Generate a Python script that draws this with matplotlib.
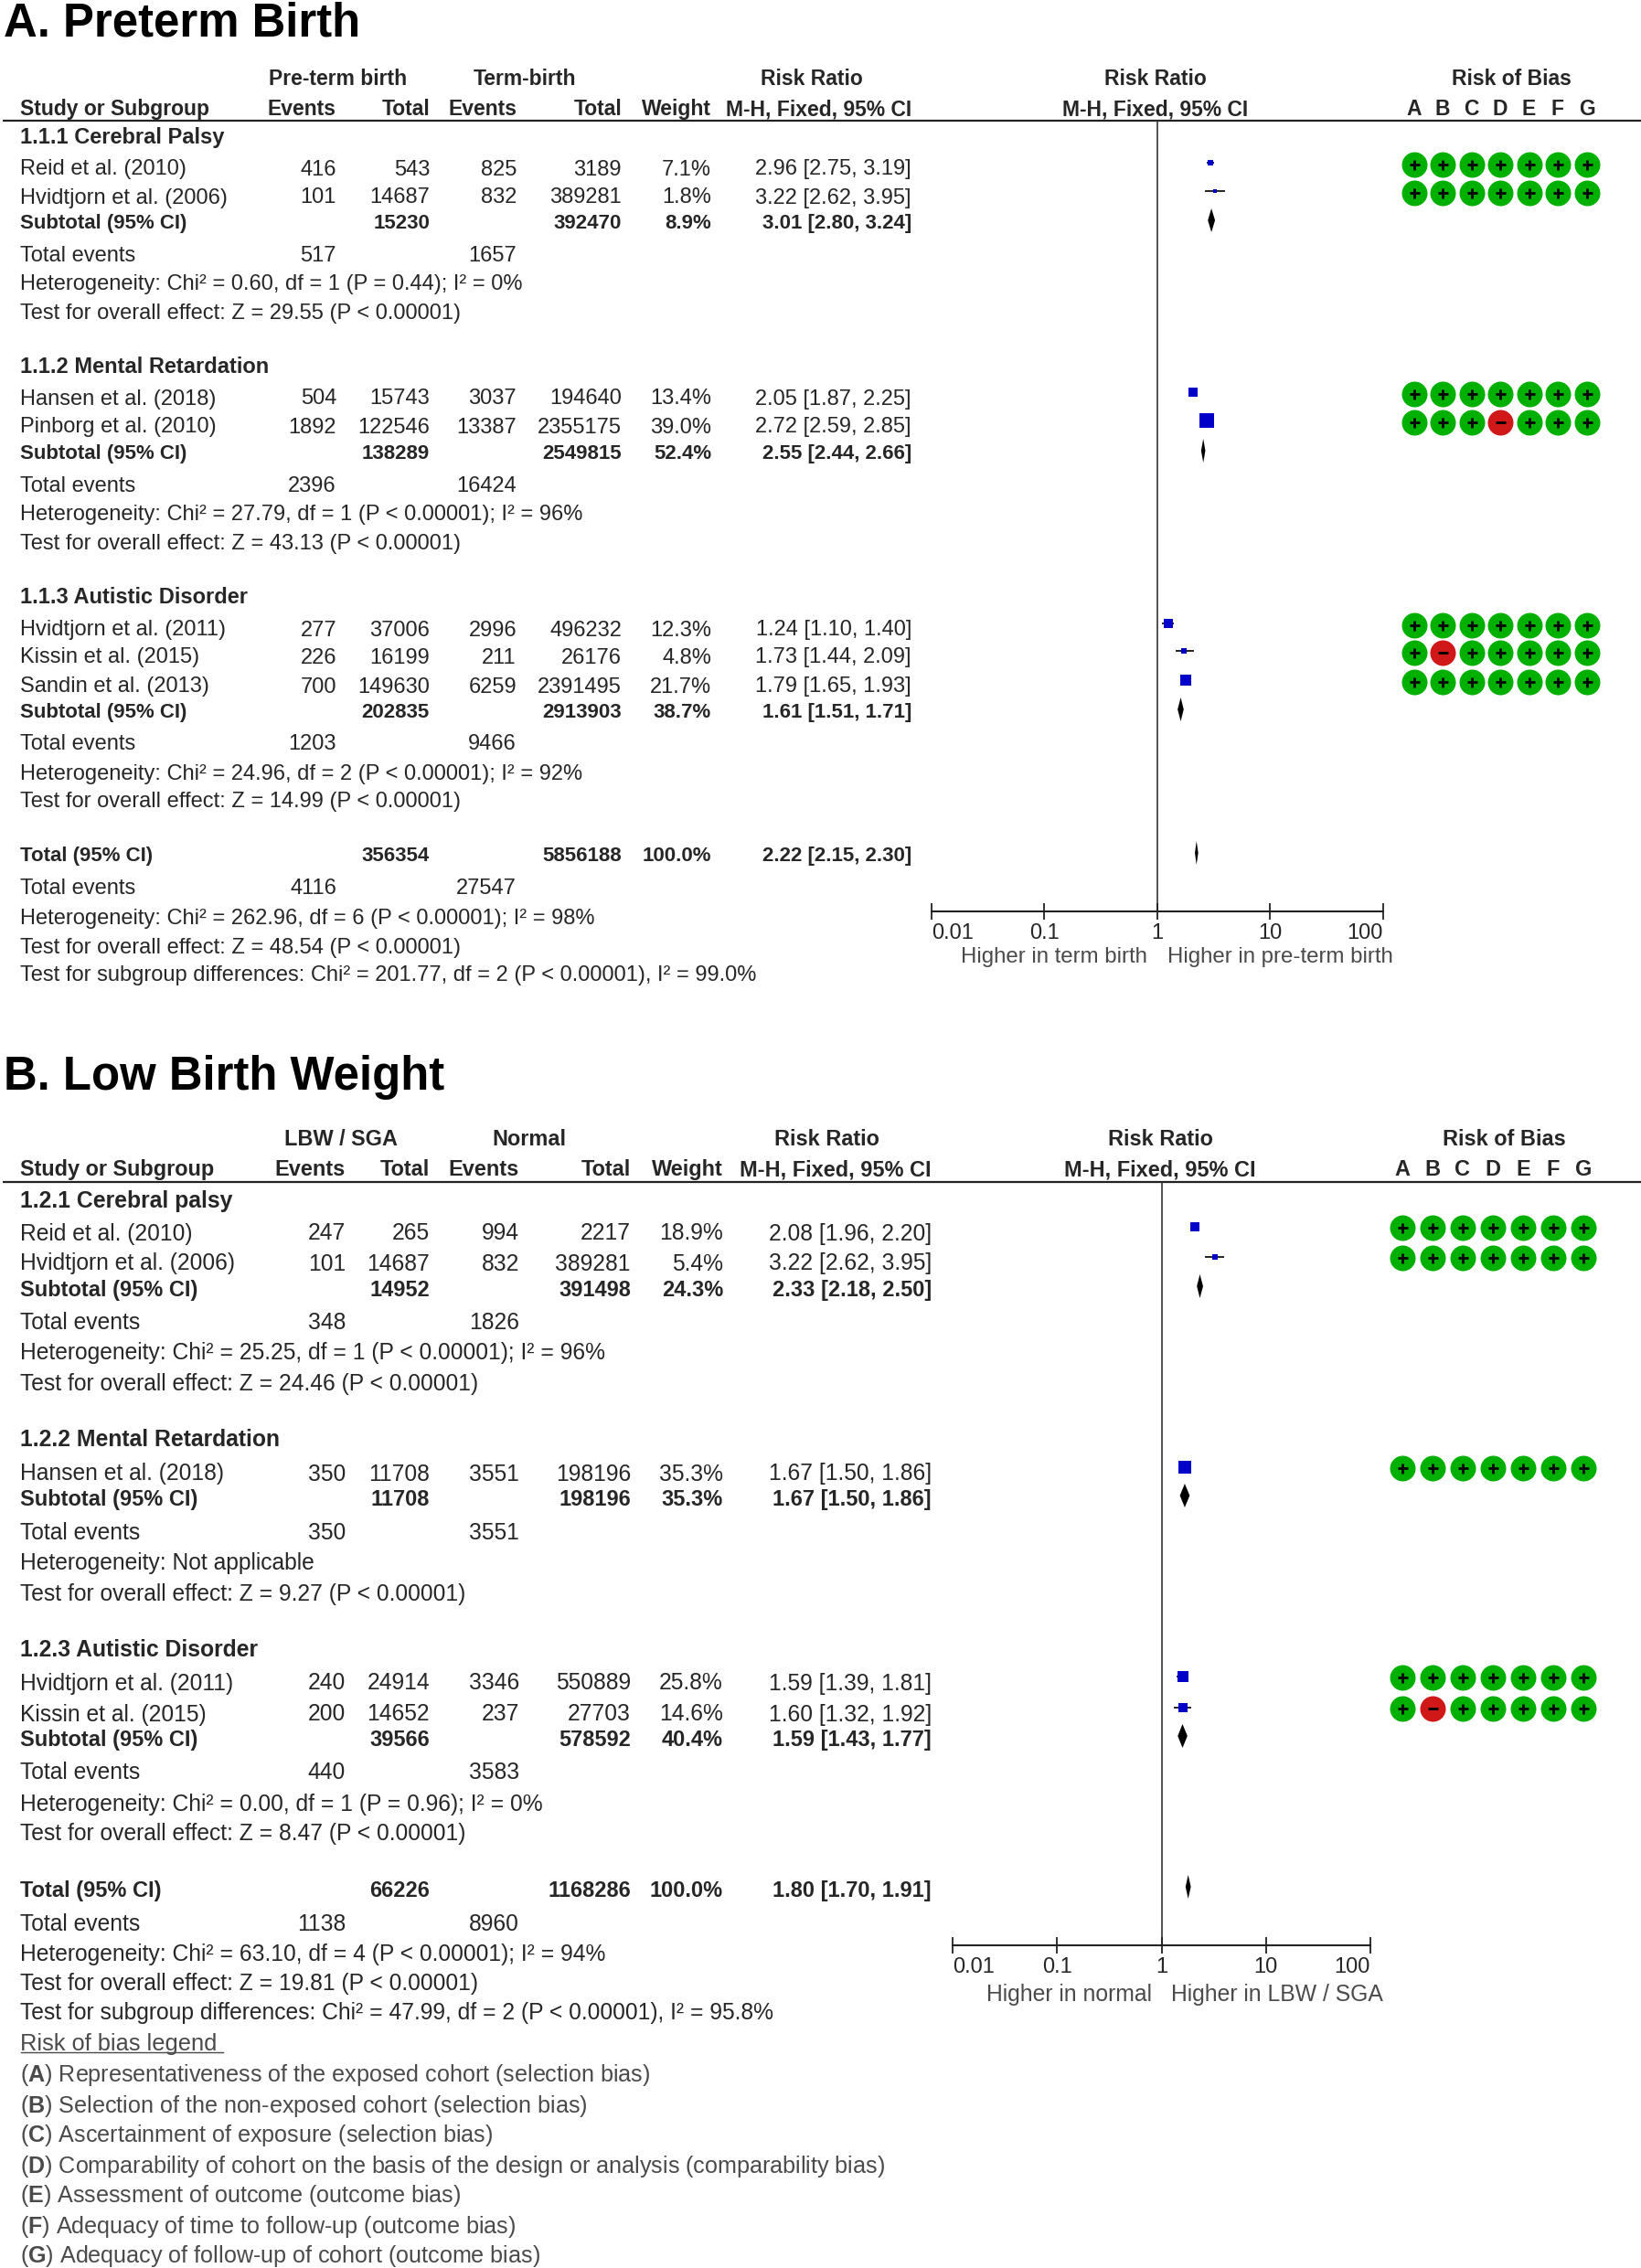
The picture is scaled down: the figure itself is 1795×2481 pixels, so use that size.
import matplotlib
matplotlib.use('Agg')
import matplotlib.pyplot as plt

plt.rcParams['font.family'] = ['Liberation Sans', 'DejaVu Sans']
plt.rcParams['mathtext.fontset'] = 'custom'
plt.rcParams['mathtext.rm'] = 'Liberation Sans'
plt.rcParams['mathtext.bf'] = 'Liberation Sans:bold'

# panel A, one entry per study
a_study = ['Reid et al. (2010)', 'Hvidtjorn et al. (2006)', 'Hansen et al. (2018)', 'Pinborg et al. (2010)',
           'Hvidtjorn et al. (2011)', 'Kissin et al. (2015)', 'Sandin et al. (2013)']
a_ev1 = [416, 101, 504, 1892, 277, 226, 700]
a_tot1 = [543, 14687, 15743, 122546, 37006, 16199, 149630]
a_ev2 = [825, 832, 3037, 13387, 2996, 211, 6259]
a_tot2 = [3189, 389281, 194640, 2355175, 496232, 26176, 2391495]
a_weight = [7.1, 1.8, 13.4, 39.0, 12.3, 4.8, 21.7]
a_rr = [2.96, 3.22, 2.05, 2.72, 1.24, 1.73, 1.79]
a_lo = [2.75, 2.62, 1.87, 2.59, 1.10, 1.44, 1.65]
a_hi = [3.19, 3.95, 2.25, 2.85, 1.40, 2.09, 1.93]
a_bias = ['+++++++', '+++++++', '+++++++', '+++-+++', '+++++++', '+-+++++', '+++++++']

# panel A, subtotals and total
a_sum_name = ['Subtotal (95% CI)', 'Subtotal (95% CI)', 'Subtotal (95% CI)', 'Total (95% CI)']
a_sum_tot1 = [15230, 138289, 202835, 356354]
a_sum_tot2 = [392470, 2549815, 2913903, 5856188]
a_sum_weight = [8.9, 52.4, 38.7, 100.0]
a_sum_rr = [3.01, 2.55, 1.61, 2.22]
a_sum_lo = [2.80, 2.44, 1.51, 2.15]
a_sum_hi = [3.24, 2.66, 1.71, 2.30]
a_te1 = [517, 2396, 1203, 4116]
a_te2 = [1657, 16424, 9466, 27547]
a_heads = ['1.1.1 Cerebral Palsy', '1.1.2 Mental Retardation', '1.1.3 Autistic Disorder']
a_notes = ['Heterogeneity: Chi² = 0.60, df = 1 (P = 0.44); I² = 0%',
           'Test for overall effect: Z = 29.55 (P < 0.00001)',
           'Heterogeneity: Chi² = 27.79, df = 1 (P < 0.00001); I² = 96%',
           'Test for overall effect: Z = 43.13 (P < 0.00001)',
           'Heterogeneity: Chi² = 24.96, df = 2 (P < 0.00001); I² = 92%',
           'Test for overall effect: Z = 14.99 (P < 0.00001)',
           'Heterogeneity: Chi² = 262.96, df = 6 (P < 0.00001); I² = 98%',
           'Test for overall effect: Z = 48.54 (P < 0.00001)',
           'Test for subgroup differences: Chi² = 201.77, df = 2 (P < 0.00001), I² = 99.0%']

# panel B
b_study = ['Reid et al. (2010)', 'Hvidtjorn et al. (2006)', 'Hansen et al. (2018)',
           'Hvidtjorn et al. (2011)', 'Kissin et al. (2015)']
b_ev1 = [247, 101, 350, 240, 200]
b_tot1 = [265, 14687, 11708, 24914, 14652]
b_ev2 = [994, 832, 3551, 3346, 237]
b_tot2 = [2217, 389281, 198196, 550889, 27703]
b_weight = [18.9, 5.4, 35.3, 25.8, 14.6]
b_rr = [2.08, 3.22, 1.67, 1.59, 1.60]
b_lo = [1.96, 2.62, 1.50, 1.39, 1.32]
b_hi = [2.20, 3.95, 1.86, 1.81, 1.92]
b_bias = ['+++++++', '+++++++', '+++++++', '+++++++', '+-+++++']

b_sum_name = ['Subtotal (95% CI)', 'Subtotal (95% CI)', 'Subtotal (95% CI)', 'Total (95% CI)']
b_sum_tot1 = [14952, 11708, 39566, 66226]
b_sum_tot2 = [391498, 198196, 578592, 1168286]
b_sum_weight = [24.3, 35.3, 40.4, 100.0]
b_sum_rr = [2.33, 1.67, 1.59, 1.80]
b_sum_lo = [2.18, 1.50, 1.43, 1.70]
b_sum_hi = [2.50, 1.86, 1.77, 1.91]
b_te1 = [348, 350, 440, 1138]
b_te2 = [1826, 3551, 3583, 8960]
b_heads = ['1.2.1 Cerebral palsy', '1.2.2 Mental Retardation', '1.2.3 Autistic Disorder']
b_notes = ['Heterogeneity: Chi² = 25.25, df = 1 (P < 0.00001); I² = 96%',
           'Test for overall effect: Z = 24.46 (P < 0.00001)',
           'Heterogeneity: Not applicable',
           'Test for overall effect: Z = 9.27 (P < 0.00001)',
           'Heterogeneity: Chi² = 0.00, df = 1 (P = 0.96); I² = 0%',
           'Test for overall effect: Z = 8.47 (P < 0.00001)',
           'Heterogeneity: Chi² = 63.10, df = 4 (P < 0.00001); I² = 94%',
           'Test for overall effect: Z = 19.81 (P < 0.00001)',
           'Test for subgroup differences: Chi² = 47.99, df = 2 (P < 0.00001), I² = 95.8%']

bias_letters = ['A', 'B', 'C', 'D', 'E', 'F', 'G']
bias_text = ['Representativeness of the exposed cohort (selection bias)',
             'Selection of the non-exposed cohort (selection bias)',
             'Ascertainment of exposure (selection bias)',
             'Comparability of cohort on the basis of the design or analysis (comparability bias)',
             'Assessment of outcome (outcome bias)',
             'Adequacy of time to follow-up (outcome bias)',
             'Adequacy of follow-up of cohort (outcome bias)']
rr_ticks = [0.01, 0.1, 1, 10, 100]
rr_ticklabels = ['0.01', '0.1', '1', '10', '100']

W, H = 1795, 2481
DARK = '#262626'
GREY = '#4a4a4a'

# layout of panel A and B, in pixels of the page
a_layout = dict(
    title='A. Preterm Birth', title_y=21, hdr1=84, hdr2=117, rule=132,
    group1='Pre-term birth', group2='Term-birth', group1_x=370, group2_x=574, rr_x=888,
    ev1_x=368, tot1_x=470, ev2_x=565, tot2_x=680, wt_x=778, ci_x=997,
    head_y=[148, 399, 651], study_y=[183, 214, 434, 465, 687, 717, 749],
    sum_y=[242, 494, 777, 934], te_y=[278, 529, 812, 970],
    note_y=[309, 341, 560, 592, 844, 875, 1002, 1034, 1065],
    x0=1019, x1=1513, axis_y=997, forest_x=1264, bias_x=1653, bias_x0=1546.5, bias_dx=31.5,
    circle_off=3, mark_off=4.5, diamond_off=1, side=2.6,
    low='Higher in term birth', high='Higher in pre-term birth', low_right=1255, high_left=1277, low_y=1045,
    fs=17.05, fs_hdr=16.5, fs_sum=16.0, fs_head=17.0, fs_low=17.3)

b_layout = dict(
    title='B. Low Birth Weight', title_y=1173, hdr1=1244, hdr2=1277, rule=1293,
    group1='LBW / SGA', group2='Normal', group1_x=373, group2_x=579, rr_x=904,
    ev1_x=378, tot1_x=470, ev2_x=568, tot2_x=690, wt_x=791, ci_x=1019,
    head_y=[1311, 1572, 1803], study_y=[1347, 1380, 1610, 1839, 1873],
    sum_y=[1409, 1638, 1901, 2066], te_y=[1445, 1675, 1937, 2102],
    note_y=[1478, 1512, 1708, 1741, 1971, 2004, 2135, 2167, 2200],
    x0=1042, x1=1499, axis_y=2128, forest_x=1269, bias_x=1645, bias_x0=1534, bias_dx=33,
    circle_off=4, mark_off=5, diamond_off=2, side=2.4,
    low='Higher in normal', high='Higher in LBW / SGA', low_right=1260, high_left=1281, low_y=2180,
    fs=17.7, fs_hdr=16.9, fs_sum=17.0, fs_head=17.8, fs_low=17.8)

legend_y = [2267, 2300, 2333, 2366, 2399, 2432, 2464]

fig = plt.figure(figsize=(W / 100, H / 100), dpi=100, facecolor='white')
page = fig.add_axes([0, 0, 1, 1])
page.set_xlim(0, W)
page.set_ylim(H, 0)
page.axis('off')


def put(x, y, s, size, ha='left', bold=False, color=DARK):
    page.text(x, y, s, ha=ha, va='center_baseline', color=color, fontsize=size,
              fontweight='bold' if bold else 'normal')


def ci_text(rr, lo, hi):
    return f'{rr:.2f} [{lo:.2f}, {hi:.2f}]'


def panel(L, study, ev1, tot1, ev2, tot2, weight, rr, lo, hi, bias,
          sum_name, sum_tot1, sum_tot2, sum_weight, sum_rr, sum_lo, sum_hi,
          te1, te2, heads, notes):
    fs, fh, fb = L['fs'], L['fs_hdr'], L['fs_sum']
    put(4, L['title_y'], L['title'], 36.6, bold=True, color='black')

    # table header
    put(L['group1_x'], L['hdr1'], L['group1'], fh, ha='center', bold=True)
    put(L['group2_x'], L['hdr1'], L['group2'], fh, ha='center', bold=True)
    put(L['rr_x'], L['hdr1'], 'Risk Ratio', fh, ha='center', bold=True)
    put(L['forest_x'], L['hdr1'], 'Risk Ratio', fh, ha='center', bold=True)
    put(L['bias_x'], L['hdr1'], 'Risk of Bias', fh, ha='center', bold=True)
    put(22, L['hdr2'], 'Study or Subgroup', fh, bold=True)
    put(L['ev1_x'], L['hdr2'], 'Events', fh, ha='right', bold=True)
    put(L['tot1_x'], L['hdr2'], 'Total', fh, ha='right', bold=True)
    put(L['ev2_x'], L['hdr2'], 'Events', fh, ha='right', bold=True)
    put(L['tot2_x'], L['hdr2'], 'Total', fh, ha='right', bold=True)
    put(L['wt_x'], L['hdr2'], 'Weight', fh, ha='right', bold=True)
    put(L['ci_x'], L['hdr2'], 'M-H, Fixed, 95% CI', fh, ha='right', bold=True)
    put(L['forest_x'], L['hdr2'], 'M-H, Fixed, 95% CI', fh, ha='center', bold=True)
    for k, letter in enumerate(bias_letters):
        put(L['bias_x0'] + k * L['bias_dx'], L['hdr2'], letter, fh, ha='center', bold=True)
    page.plot([3, W], [L['rule'], L['rule']], color='#222222', lw=1.6, solid_capstyle='butt')

    # table body
    for name, y in zip(heads, L['head_y']):
        put(22, y, name, L['fs_head'], bold=True)
    for i, y in enumerate(L['study_y']):
        put(22, y, study[i], fs)
        put(L['ev1_x'], y, str(ev1[i]), fs, ha='right')
        put(L['tot1_x'], y, str(tot1[i]), fs, ha='right')
        put(L['ev2_x'], y, str(ev2[i]), fs, ha='right')
        put(L['tot2_x'], y, str(tot2[i]), fs, ha='right')
        put(L['wt_x'], y, f'{weight[i]:.1f}%', fs, ha='right')
        put(L['ci_x'], y, ci_text(rr[i], lo[i], hi[i]), fs, ha='right')
    for i, y in enumerate(L['sum_y']):
        put(22, y, sum_name[i], fb, bold=True)
        put(L['tot1_x'], y, str(sum_tot1[i]), fb, ha='right', bold=True)
        put(L['tot2_x'], y, str(sum_tot2[i]), fb, ha='right', bold=True)
        put(L['wt_x'], y, f'{sum_weight[i]:.1f}%', fb, ha='right', bold=True)
        put(L['ci_x'], y, ci_text(sum_rr[i], sum_lo[i], sum_hi[i]), fb, ha='right', bold=True)
    for i, y in enumerate(L['te_y']):
        put(22, y, 'Total events', fs)
        put(L['ev1_x'], y, str(te1[i]), fs, ha='right')
        put(L['ev2_x'], y, str(te2[i]), fs, ha='right')
    for note, y in zip(notes, L['note_y']):
        put(22, y, note, fs)

    # risk of bias circles
    for i, y in enumerate(L['study_y']):
        for k, mark in enumerate(bias[i]):
            cx = L['bias_x0'] + k * L['bias_dx']
            cy = y - L['circle_off']
            page.scatter(cx, cy, s=(28 * 0.72) ** 2, color='#00b000' if mark == '+' else '#d01818',
                         linewidths=0, zorder=3)
            page.scatter(cx, cy, s=(11 * 0.72) ** 2, marker='+' if mark == '+' else '_',
                         color='black', linewidths=2, zorder=4)

    # forest plot, log scale on x and page pixels on y
    ax = fig.add_axes([L['x0'] / W, 1 - L['axis_y'] / H, (L['x1'] - L['x0']) / W,
                       (L['axis_y'] - L['rule']) / H])
    ax.patch.set_visible(False)
    ax.set_xscale('log')
    ax.set_xlim(0.01, 100)
    ax.set_ylim(L['axis_y'], L['rule'])
    for s in ['top', 'left', 'right']:
        ax.spines[s].set_visible(False)
    ax.spines['bottom'].set_linewidth(1.5)
    ax.spines['bottom'].set_color('#222222')
    ax.set_yticks([])
    ax.set_xticks(rr_ticks)
    ax.set_xticklabels(rr_ticklabels)
    ax.minorticks_off()
    ax.tick_params(axis='x', which='major', direction='inout', length=13, width=1.3,
                   color='#222222', labelsize=17, labelcolor=DARK, pad=3)
    labels = ax.get_xticklabels()
    labels[0].set_ha('left')
    labels[-1].set_ha('right')
    ax.axvline(1, color='#333333', lw=1.2, zorder=1)

    for i, y in enumerate(L['study_y']):
        my = y - L['mark_off']
        ax.plot([lo[i], hi[i]], [my, my], color='#222222', lw=1.4, zorder=2, solid_capstyle='butt')
        side = L['side'] * weight[i] ** 0.5
        ax.scatter(rr[i], my, marker='s', s=(side * 0.72) ** 2, color='#0000c8', linewidths=0, zorder=3)
    for i, y in enumerate(L['sum_y']):
        my = y - L['diamond_off']
        ax.fill([sum_lo[i], sum_rr[i], sum_hi[i], sum_rr[i]], [my, my - 13, my, my + 13],
                color='black', linewidth=0, zorder=3)

    put(L['low_right'], L['low_y'], L['low'], L['fs_low'], ha='right', color=GREY)
    put(L['high_left'], L['low_y'], L['high'], L['fs_low'], color=GREY)


panel(a_layout, a_study, a_ev1, a_tot1, a_ev2, a_tot2, a_weight, a_rr, a_lo, a_hi, a_bias,
      a_sum_name, a_sum_tot1, a_sum_tot2, a_sum_weight, a_sum_rr, a_sum_lo, a_sum_hi,
      a_te1, a_te2, a_heads, a_notes)
panel(b_layout, b_study, b_ev1, b_tot1, b_ev2, b_tot2, b_weight, b_rr, b_lo, b_hi, b_bias,
      b_sum_name, b_sum_tot1, b_sum_tot2, b_sum_weight, b_sum_rr, b_sum_lo, b_sum_hi,
      b_te1, b_te2, b_heads, b_notes)

# risk of bias legend
put(22, 2234, 'Risk of bias legend', 18.3, color=GREY)
page.plot([23, 244], [2245, 2245], color=GREY, lw=1)
for letter, text, y in zip(bias_letters, bias_text, legend_y):
    put(22, y, '($\\mathbf{' + letter + '}$) ' + text, 18.1, color=GREY)

fig.savefig('out.png', dpi=100)
